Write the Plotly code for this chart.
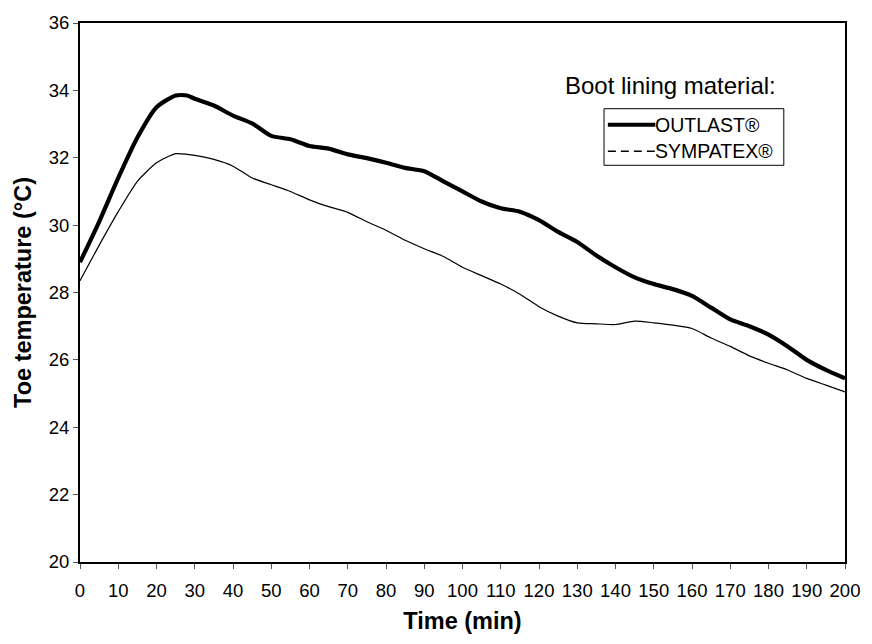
import plotly.graph_objects as go

time_min = [0, 5, 10, 15, 20, 25, 28, 30, 35, 40, 45, 50, 55, 60, 65, 70, 75, 80, 85, 90, 95,
            100, 105, 110, 115, 120, 125, 130, 135, 140, 145, 150, 155, 160, 165, 170, 175,
            180, 185, 190, 195, 200]
outlast = [28.9, 30.1, 31.4, 32.6, 33.5, 33.85, 33.85, 33.75, 33.55, 33.25, 33.02, 32.65, 32.55,
           32.35, 32.27, 32.1, 31.99, 31.85, 31.7, 31.6, 31.3, 31.0, 30.7, 30.5, 30.4, 30.15,
           29.8, 29.5, 29.1, 28.75, 28.45, 28.25, 28.1, 27.9, 27.55, 27.2, 27.0, 26.75, 26.4,
           26.0, 25.7, 25.45]
sympatex = [28.35, 29.4, 30.4, 31.3, 31.85, 32.12, 32.1, 32.07, 31.95, 31.75, 31.4, 31.2, 31.0,
            30.75, 30.55, 30.38, 30.1, 29.85, 29.55, 29.3, 29.07, 28.75, 28.5, 28.25, 27.95,
            27.58, 27.3, 27.1, 27.07, 27.05, 27.15, 27.1, 27.03, 26.93, 26.65, 26.4, 26.12,
            25.9, 25.7, 25.45, 25.25, 25.05]
series_names = ["OUTLAST®", "SYMPATEX®"]
legend_title = "Boot lining material:"
x_ticks = list(range(0, 201, 10))
y_ticks = list(range(20, 37, 2))

FONT = "Liberation Sans, Arial, sans-serif"

fig = go.Figure()
fig.add_trace(go.Scatter(x=time_min, y=outlast, mode="lines", name=series_names[0],
                         line=dict(color="black", width=4.2, shape="spline", smoothing=0.6),
                         showlegend=False))
fig.add_trace(go.Scatter(x=time_min, y=sympatex, mode="lines", name=series_names[1],
                         line=dict(color="black", width=1.2, shape="spline", smoothing=0.6),
                         showlegend=False))

# key box (drawn in plot-area paper coordinates)
box = dict(x0=0.685, x1=0.920, y0=0.736, y1=0.841)
row_y = [0.811, 0.762]
samp_x = [0.690, 0.752]
shapes = [
    dict(type="rect", xref="paper", yref="paper", **box,
         line=dict(color="black", width=1), fillcolor="white", layer="above"),
    dict(type="line", xref="paper", yref="paper", x0=samp_x[0], x1=samp_x[1],
         y0=row_y[0], y1=row_y[0], line=dict(color="black", width=4), layer="above"),
    dict(type="line", xref="paper", yref="paper", x0=samp_x[0], x1=samp_x[1],
         y0=row_y[1], y1=row_y[1], line=dict(color="black", width=1.5, dash="8px,5px"),
         layer="above"),
]
annotations = [
    dict(text=legend_title, x=0.772, y=0.884, xref="paper", yref="paper",
         xanchor="center", yanchor="middle", showarrow=False,
         font=dict(size=24, family=FONT, color="black")),
]
for name, yy in zip(series_names, row_y):
    annotations.append(dict(text=name, x=0.752, y=yy, xref="paper", yref="paper",
                            xanchor="left", yanchor="middle", showarrow=False,
                            xshift=-2, font=dict(size=19.5, family=FONT, color="black")))

fig.update_layout(
    width=872, height=644,
    paper_bgcolor="white", plot_bgcolor="white",
    margin=dict(l=80, r=18, t=14, b=82),
    font=dict(family=FONT, size=18.5, color="black"),
    xaxis=dict(range=[0, 200], tickvals=x_ticks, ticks="outside", ticklen=5, tickwidth=1,
               tickcolor="#555", showline=True, linecolor="black", linewidth=2, mirror=True,
               showgrid=False, zeroline=False, ticklabelstandoff=6,
               title=dict(text="<b>Time (min)</b>", font=dict(size=23.5, family=FONT), standoff=12),
               tickfont=dict(size=18.5)),
    yaxis=dict(range=[20, 36], tickvals=y_ticks, ticks="outside", ticklen=5, tickwidth=1,
               tickcolor="#555", showline=True, linecolor="black", linewidth=2, mirror=True,
               showgrid=False, zeroline=False,
               title=dict(text="<b>Toe temperature (°C)</b>", font=dict(size=23.5, family=FONT), standoff=10),
               tickfont=dict(size=18.5)),
    shapes=shapes,
    annotations=annotations,
)

fig.write_html("out.html", config={"displayModeBar": False},
               post_script="document.body.style.margin='0px';")
